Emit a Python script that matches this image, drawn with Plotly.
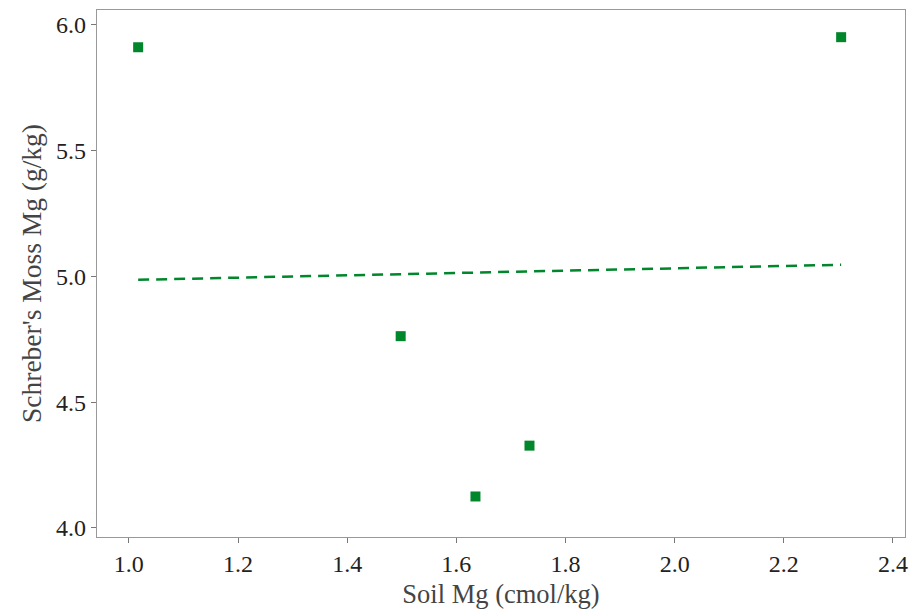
import numpy as np
import plotly.graph_objects as go

soil_mg = [1.017, 1.498, 1.635, 1.734, 2.305]
moss_mg = [5.910, 4.762, 4.125, 4.327, 5.950]

x_ticks = [1.0, 1.2, 1.4, 1.6, 1.8, 2.0, 2.2, 2.4]
y_ticks = [4.0, 4.5, 5.0, 5.5, 6.0]

green = "#00862b"
slope, intercept = np.polyfit(soil_mg, moss_mg, 1)
fit_x = [min(soil_mg), max(soil_mg)]
fit_y = [slope * v + intercept for v in fit_x]

fig = go.Figure()
fig.add_trace(go.Scatter(x=soil_mg, y=moss_mg, mode="markers",
                         marker=dict(symbol="square", size=10, color=green),
                         showlegend=False))
fig.add_trace(go.Scatter(x=fit_x, y=fit_y, mode="lines",
                         line=dict(color=green, width=2.5, dash="11px,7px"),
                         showlegend=False))

font = "'Liberation Serif', 'Times New Roman', serif"
axis_common = dict(showgrid=False, zeroline=False, showline=True, linecolor="#999999",
                   linewidth=1.3, mirror=True, ticks="outside", ticklen=5,
                   tickcolor="#777777", tickfont=dict(family=font, size=24, color="#222222"))
fig.update_layout(
    width=917, height=613,
    margin=dict(l=97, r=9, t=9, b=74),
    plot_bgcolor="white", paper_bgcolor="white",
    xaxis=dict(range=[0.9416, 2.422], tickvals=x_ticks, ticktext=[f"{v:.1f}" for v in x_ticks],
               title=dict(text="Soil Mg (cmol/kg)", font=dict(family=font, size=26.5, color="#444444"),
                          standoff=8),
               **axis_common),
    yaxis=dict(range=[3.964, 6.058], tickvals=y_ticks, ticktext=[f"{v:.1f}" for v in y_ticks],
               title=dict(text="Schreber's Moss Mg (g/kg)", font=dict(family=font, size=27.5, color="#444444"),
                          standoff=6),
               **axis_common),
)
fig.write_html("out.html")
